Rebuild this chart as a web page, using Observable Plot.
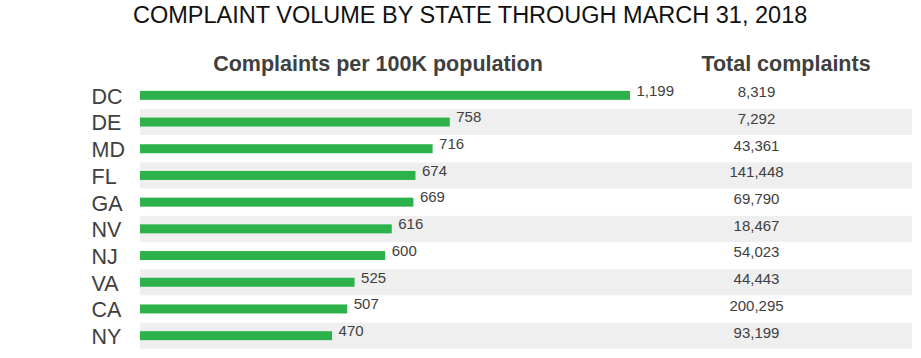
<!DOCTYPE html>
<html>
<head>
<meta charset="utf-8">
<script src="https://cdn.jsdelivr.net/npm/d3@7"></script>
<script src="https://cdn.jsdelivr.net/npm/@observablehq/plot@0.6"></script>
<style>
  html, body { margin: 0; padding: 0; background: #fff; }
  #wrap { position: relative; width: 921px; height: 358px; font-family: "Liberation Sans", Arial, sans-serif; }
  #head { position: relative; width: 921px; height: 82px; }
  .title { position: absolute; left: 133px; top: 4px; font-size: 23.5px; line-height: 23.5px; color: #111; white-space: nowrap; }
  .hdr { position: absolute; width: 400px; text-align: center; top: 54px; font-size: 21.5px; line-height: 21.5px; font-weight: bold; color: #404040; white-space: nowrap; }
  svg { display: block; }
</style>
</head>
<body>
<div id="wrap">
  <div id="head">
    <div class="title">COMPLAINT VOLUME BY STATE THROUGH MARCH 31, 2018</div>
    <div class="hdr" style="left:178px">Complaints per 100K population</div>
    <div class="hdr" style="left:586px">Total complaints</div>
  </div>
  <div id="chart"></div>
</div>
<script>
const states = ["DC", "DE", "MD", "FL", "GA", "NV", "NJ", "VA", "CA", "NY"];
const per100k = [1199, 758, 716, 674, 669, 616, 600, 525, 507, 470];
const totals = [8319, 7292, 43361, 141448, 69790, 18467, 54023, 44443, 200295, 93199];

const rows = states.map((s, i) => ({state: s, rate: per100k[i], total: totals[i], i}));
const fmt = d3.format(",");

const chart = Plot.plot({
  width: 921,
  height: 276,
  marginLeft: 140,
  marginRight: 9,
  marginTop: 0,
  marginBottom: 9,
  style: {fontFamily: "'Liberation Sans', Arial, sans-serif", background: "#fff"},
  x: {domain: [0, 1199], range: [140, 630], axis: null},
  y: {type: "band", domain: states, padding: 0, round: false, axis: null},
  marks: [
    Plot.cell(rows.filter(d => d.i % 2 === 1), {y: "state", fill: "#efefef", insetTop: 0.3, insetBottom: 0.3}),
    Plot.barX(rows, {y: "state", x1: 0, x2: "rate", fill: "#2db24b", insetTop: 8.85, insetBottom: 8.85}),
    Plot.text(rows, {y: "state", x: "rate", text: d => fmt(d.rate), textAnchor: "start", dx: 6, dy: -5, fontSize: 15, fill: "#404040"}),
    Plot.text(rows, {y: "state", frameAnchor: "right", text: d => fmt(d.total), textAnchor: "middle", dx: -156, dy: -3.4, fontSize: 15, fill: "#404040"}),
    Plot.text(rows, {y: "state", frameAnchor: "left", text: "state", textAnchor: "start", dx: -49, dy: 1, fontSize: 21.5, fill: "#404040"})
  ]
});
document.getElementById("chart").appendChild(chart);
</script>
</body>
</html>
